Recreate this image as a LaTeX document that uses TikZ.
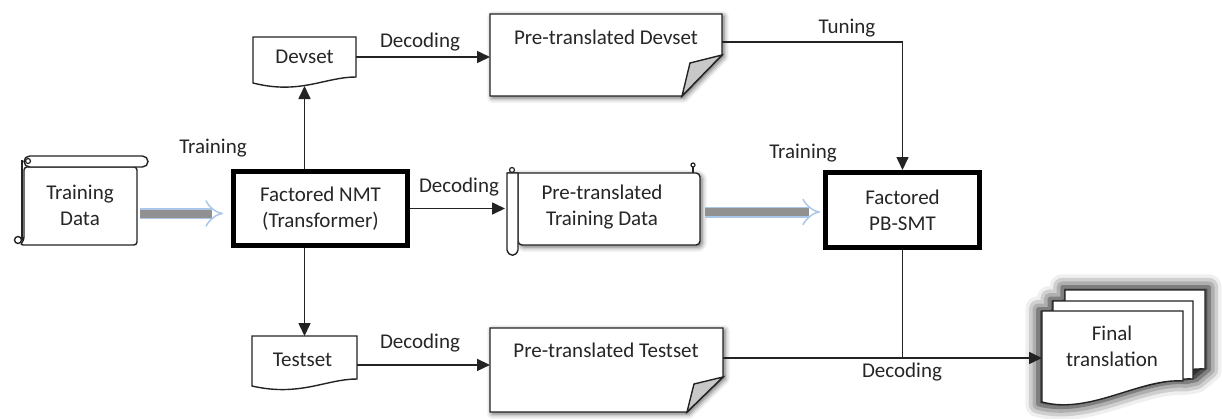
\documentclass[tikz,border=0pt]{standalone}
\usepackage{fontspec}
\setmainfont{Carlito}
\usetikzlibrary{arrows.meta,shadows.blur,calc}
\definecolor{lineC}{RGB}{35,35,35}
\definecolor{dblOut}{RGB}{170,198,232}
\definecolor{dblIn}{RGB}{145,145,145}
\definecolor{foldC}{RGB}{200,200,200}
\begin{document}
\begin{tikzpicture}[x=1pt,y=-1pt,
  every node/.style={font=\fontsize{21}{26}\selectfont, text=black!85},
  lbl/.style={inner sep=0pt},
  line/.style={line width=1.6pt, draw=lineC},
  arr/.style={line, -{Triangle[length=13pt,width=12pt]}},
  thickbox/.style={draw=black, line width=5pt, fill=white, inner sep=0pt, align=center},
  anchorbox/.style={inner sep=0pt, outer sep=0pt, draw=none},
  shp/.style={line width=1.4pt, draw=lineC, fill=white},
  dshadow/.style={blur shadow={shadow xshift=2pt, shadow yshift=-2pt, shadow blur radius=5pt, shadow opacity=60}},
  glow/.style={blur shadow={shadow xshift=0pt, shadow yshift=0pt, shadow blur radius=12pt, shadow opacity=100, shadow scale=1.05}},
  dbl/.style={line width=1.5pt, draw=dblOut, double=dblIn, double distance=8pt, -{Implies}},
]
\useasboundingbox (0,0) rectangle (1222,418);

% ---------- Training Data scroll ----------
\draw[shp, rounded corners=3pt] (24,167) -- (137,167) -- (137,245) -- (20,245) -- (24,240) -- cycle;
\draw[shp, rounded corners=5.5pt] (24,156) -- (148,156) -- (148,167) -- (24,167) -- cycle;
\draw[line, line width=1.4pt] (22,160) -- (22,240);
\draw[line, line width=1.4pt] (18,240) circle (3.5pt);
\draw[line, line width=1.2pt] (28,161) circle (2.5pt);
\node[anchorbox, minimum width=115pt, minimum height=89pt] (tdata) at (79.5,200.5) {};
\node[align=center] (tdata-t) at (80,205) {Training\\Data};

% ---------- Factored NMT ----------
\node[thickbox, minimum width=174pt, minimum height=74pt] (nmt) at (320.5,208.5) {Factored NMT\\(Transformer)};

% ---------- Devset ----------
\draw[shp] (253,37) -- (356,37) -- (356,77) .. controls (325,77) and (300,95) .. (253,83) -- cycle;
\node[anchorbox, minimum width=103pt, minimum height=49pt] (devset) at (304.5,61.5) {};
\node (devset-t) at (304.5,57) {Devset};

% ---------- Testset ----------
\draw[shp] (252,336) -- (357,336) -- (357,379) .. controls (326,379) and (300,397) .. (252,386) -- cycle;
\node[anchorbox, minimum width=105pt, minimum height=50pt] (testset) at (304.5,361) {};
\node (testset-t) at (302.5,360) {Testset};

% ---------- Pre-translated Devset ----------
\draw[shp, dshadow] (490,14) -- (722,14) -- (722,55) -- (682,96) -- (490,96) -- cycle;
\draw[shp, fill=foldC] (722,55) -- (690,63) -- (682,96) -- cycle;
\node[anchorbox, minimum width=232pt, minimum height=82pt] (pdev) at (606,55) {};
\node (pdev-t) at (606,37) {Pre-translated Devset};

% ---------- Pre-translated Testset ----------
\draw[shp, dshadow] (490,328) -- (723,328) -- (723,377) -- (687,412) -- (490,412) -- cycle;
\draw[shp, fill=foldC] (723,377) -- (694,384) -- (687,412) -- cycle;
\node[anchorbox, minimum width=233pt, minimum height=84pt] (ptest) at (606.5,370) {};
\node (ptest-t) at (606,350) {Pre-translated Testset};

% ---------- Pre-translated Training Data scroll ----------
\draw[shp, dshadow, rounded corners=4pt] (507,173) -- (700,173) -- (700,245) -- (518,245) -- (518,173);
\draw[shp] (507,173) -- (507,250) .. controls (509,257) and (516,257) .. (518,250) -- (518,173) -- cycle;
\draw[line, line width=1.2pt] (512,170) circle (2.5pt);
\draw[line, line width=1.2pt] (693,173) -- (693,167);
\draw[line, line width=1.2pt] (693,165) circle (2pt);
\node[anchorbox, minimum width=195pt, minimum height=72pt] (ptrain) at (602.5,209) {};
\node[align=center] (ptrain-t) at (602,207) {Pre-translated\\Training Data};

% ---------- Factored PB-SMT ----------
\node[thickbox, minimum width=154pt, minimum height=75pt] (pbsmt) at (902.5,210) {Factored\\PB-SMT};

% ---------- Final translation stack ----------
\path[glow] (1065,290) -- (1205,290) -- (1205,369) -- (1193,379) -- (1183,381)
  .. controls (1140,378) and (1090,415) .. (1042,402) -- (1042,311) -- (1053,311) -- (1053,301) -- (1065,301) -- cycle;
\draw[shp] (1065,290) -- (1205,290) -- (1205,369) .. controls (1170,367) and (1120,395) .. (1065,385) -- cycle;
\draw[shp] (1053,301) -- (1193,301) -- (1193,379) .. controls (1155,377) and (1105,405) .. (1053,395) -- cycle;
\draw[shp] (1042,311) -- (1183,311) -- (1183,381) .. controls (1140,378) and (1090,415) .. (1042,402) -- cycle;
\node[anchorbox, minimum width=141pt, minimum height=94pt] (fin) at (1112.5,358) {};
\node[align=center] (fin-t) at (1112,346) {Final\\translation};

% ---------- connectors ----------
\draw[arr] (nmt.north -| devset.south) -- (devset.south);
\draw[arr] (nmt.south -| testset.north) -- (testset.north);
\draw[arr] (devset-t.east -| devset.east) -- (devset-t.east -| pdev.west);
\coordinate (ptest-in) at ($(ptest.north west)!0.44!(ptest.south west)$);
\draw[arr] (ptest-in -| testset.east) -- (ptest-in);
\coordinate (pdev-out) at ($(pdev.north east)!0.34!(pdev.south east)$);
\draw[arr] (pdev-out) -| (pbsmt.north);
\draw[arr] (nmt.east) -- (nmt.east -| ptrain.west);
\coordinate (ptest-out) at ($(ptest.north east)!0.357!(ptest.south east)$);
\draw[arr] (ptest-out) -- (ptest-out -| fin.west);
\draw[line] (pbsmt.south) -- (pbsmt.south |- fin.west);
\draw[dbl] ($(tdata.east)+(3,13)$) -- ($(tdata.east -| nmt.west)+(-8,13)$);
\draw[dbl] ($(ptrain.east)+(5,3)$) -- ($(ptrain.east -| pbsmt.west)+(-3,3)$);

% ---------- labels ----------
\node[lbl] (l-train1) at (213,148) {Training};
\node[lbl] (l-dec1) at (420,42) {Decoding};
\node[lbl] (l-tune) at (847,28) {Tuning};
\node[lbl] (l-dec2) at (459,187) {Decoding};
\node[lbl] (l-train2) at (803,153) {Training};
\node[lbl] (l-dec3) at (420,343) {Decoding};
\node[lbl] (l-dec4) at (902,372) {Decoding};
\end{tikzpicture}
\end{document}
